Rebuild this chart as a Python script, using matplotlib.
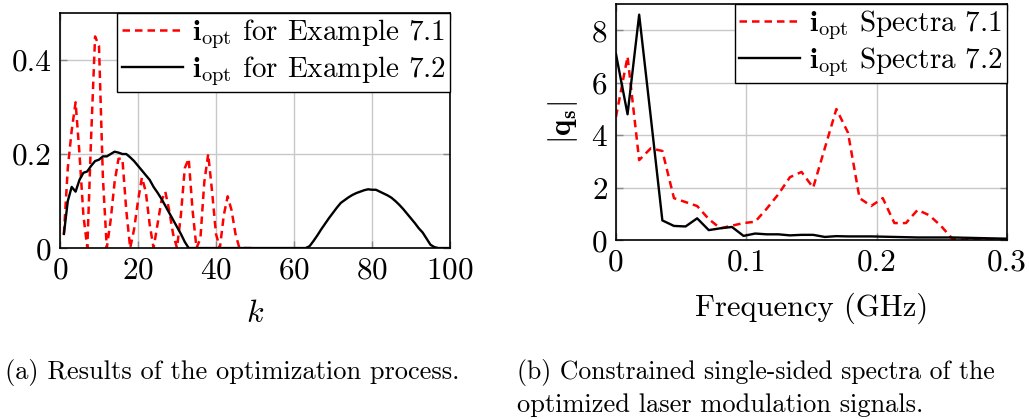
import matplotlib
matplotlib.use("Agg")
import matplotlib.pyplot as plt
import numpy as np

plt.rcParams['font.family'] = 'serif'
plt.rcParams['font.serif'] = ['cmr10']
plt.rcParams['mathtext.fontset'] = 'cm'
plt.rcParams['axes.formatter.use_mathtext'] = True

# (a) optimization result, k = 1..100
k = np.arange(1, 101)
i_opt_71 = [0.03, 0.17, 0.25, 0.31, 0.20, 0.07, 0.0, 0.24, 0.45, 0.43,
            0.15, 0.0, 0.06, 0.14, 0.19, 0.19, 0.08, 0.0, 0.04, 0.10,
            0.15, 0.12, 0.05, 0.0, 0.05, 0.10, 0.12, 0.08, 0.03, 0.0,
            0.07, 0.17, 0.19, 0.08, 0.0, 0.02, 0.14, 0.20, 0.12, 0.03,
            0.0, 0.07, 0.11, 0.08, 0.03, 0.0, 0.0, 0.0, 0.0, 0.0]
i_opt_72 = [0.03, 0.10, 0.13, 0.12, 0.145, 0.16, 0.163, 0.175, 0.185, 0.188,
            0.195, 0.195, 0.20, 0.205, 0.203, 0.20, 0.20, 0.193, 0.185, 0.175,
            0.165, 0.155, 0.145, 0.13, 0.118, 0.105, 0.09, 0.075, 0.06, 0.045,
            0.03, 0.013, 0.0, 0.0, 0.0, 0.0, 0.0, 0.0, 0.0, 0.0,
            0.0, 0.0, 0.0, 0.0, 0.0, 0.0, 0.0, 0.0, 0.0, 0.0,
            0.0, 0.0, 0.0, 0.0, 0.0, 0.0, 0.0, 0.0, 0.0, 0.0,
            0.0, 0.0, 0.0, 0.004, 0.015, 0.027, 0.04, 0.052, 0.064, 0.075,
            0.086, 0.096, 0.102, 0.108, 0.113, 0.117, 0.12, 0.123, 0.125, 0.124,
            0.124, 0.12, 0.116, 0.112, 0.107, 0.10, 0.092, 0.083, 0.073, 0.063,
            0.053, 0.042, 0.033, 0.02, 0.007, 0.002, 0.0, 0.0, 0.0, 0.0]

# (b) single-sided spectra
df = 0.0089
freq = np.arange(35) * df
spec_71 = [4.7, 7.0, 3.05, 3.5, 3.4, 1.6, 1.45, 1.3, 0.8, 0.45,
           0.55, 0.65, 0.7, 1.2, 1.75, 2.4, 2.6, 2.0, 3.5, 5.0,
           4.1, 1.6, 1.3, 1.6, 0.65, 0.65, 1.15, 0.95, 0.55, 0.05,
           0.0, 0.0, 0.0, 0.0, 0.0]
spec_72 = [7.1, 4.8, 8.6, 4.7, 0.75, 0.54, 0.52, 0.83, 0.38, 0.45,
           0.5, 0.16, 0.25, 0.22, 0.22, 0.18, 0.2, 0.2, 0.12, 0.15,
           0.14, 0.14, 0.14, 0.13, 0.12, 0.11, 0.1, 0.1, 0.1, 0.1,
           0.09, 0.08, 0.07, 0.06, 0.05]

fig = plt.figure(figsize=(10.29, 4.19), dpi=100)
ax1 = fig.add_axes([0.0583, 0.408, 0.379, 0.561])
ax2 = fig.add_axes([0.5986, 0.427, 0.380, 0.563])

red_kw = dict(color='red', linestyle=(0, (3, 2)), linewidth=1.8)
blk_kw = dict(color='black', linewidth=1.7)

ax1.plot(k[:len(i_opt_71)], i_opt_71, label=r'$\mathbf{i}_{\mathrm{opt}}$ for Example 7.1', **red_kw)
ax1.plot(k, i_opt_72, label=r'$\mathbf{i}_{\mathrm{opt}}$ for Example 7.2', **blk_kw)
ax1.set_xlim(0, 100)
ax1.set_ylim(0, 0.5)
ax1.set_xticks([0, 20, 40, 60, 80, 100])
ax1.set_yticks([0, 0.2, 0.4])
ax1.set_yticklabels(['0', '0.2', '0.4'])
ax1.set_xlabel(r'$k$', fontsize=23, labelpad=12)

ax2.plot(freq, spec_71, label=r'$\mathbf{i}_{\mathrm{opt}}$ Spectra 7.1', **red_kw)
ax2.plot(freq, spec_72, label=r'$\mathbf{i}_{\mathrm{opt}}$ Spectra 7.2', **blk_kw)
ax2.set_xlim(0, 0.3)
ax2.set_ylim(0, 9)
ax2.set_xticks([0, 0.1, 0.2, 0.3])
ax2.set_xticklabels(['0', '0.1', '0.2', '0.3'])
ax2.set_yticks([0, 2, 4, 6, 8])
ax2.set_xlabel('Frequency (GHz)', fontsize=22, labelpad=12)
ax2.set_ylabel(r'$|\mathbf{q}_\mathbf{s}|$', fontsize=22, labelpad=8)

for ax in (ax1, ax2):
    ax.grid(True, color='#c8c8c8', linewidth=1.0)
    ax.set_axisbelow(True)
    ax.tick_params(direction='in', length=5, width=1, color='#888888',
                   labelsize=22.5, top=True, right=True, pad=6)
    for s in ax.spines.values():
        s.set_linewidth(1.2)
    leg = ax.legend(loc='upper right', fontsize=21, frameon=True, fancybox=False,
                    edgecolor='black', framealpha=1, borderpad=0.15,
                    handlelength=2.1, handletextpad=0.3, labelspacing=0.1,
                    borderaxespad=0)
    leg.get_frame().set_linewidth(1.0)

fig.text(0.005, 0.112, '(a) Results of the optimization process.', fontsize=19, va='center')
fig.text(0.502, 0.112, '(b) Constrained single-sided spectra of the', fontsize=18.5, va='center')
fig.text(0.502, 0.033, 'optimized laser modulation signals.', fontsize=19, va='center')

fig.savefig('out.png', dpi=100)
